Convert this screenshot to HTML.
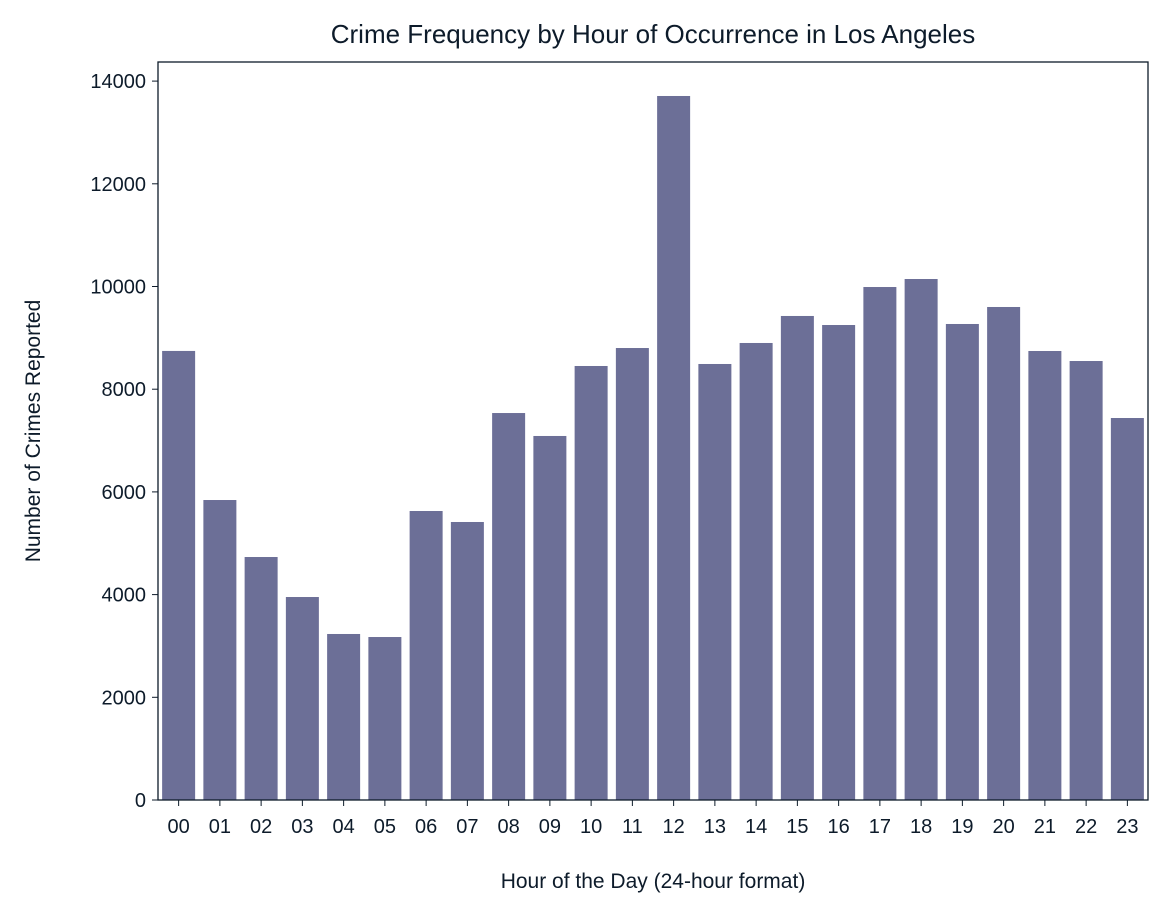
<!DOCTYPE html>
<html><head><meta charset="utf-8">
<style>
body{margin:0;background:#fff;}
svg text{font-family:"Liberation Sans",sans-serif;fill:#0d1b2a;}
</style></head><body>
<svg id="chart" width="1170" height="913" viewBox="0 0 1170 913" xmlns="http://www.w3.org/2000/svg">
<rect width="1170" height="913" fill="#fff"/>
<text x="653" y="43" font-size="26" text-anchor="middle">Crime Frequency by Hour of Occurrence in Los Angeles</text>
<text x="653" y="888" font-size="21" text-anchor="middle">Hour of the Day (24-hour format)</text>
<text transform="translate(40,431) rotate(-90)" font-size="21" text-anchor="middle">Number of Crimes Reported</text>
<g id="bars"></g>
<g id="ticks"></g>
<rect x="158" y="62" width="990" height="738" fill="none" stroke="#0d1b2a" stroke-width="1.3"/>
</svg>
<script>
const categories=["00","01","02","03","04","05","06","07","08","09","10","11","12","13","14","15","16","17","18","19","20","21","22","23"];
const crimeCounts=[8745,5842,4732,3953,3233,3174,5628,5414,7536,7089,8452,8802,13710,8491,8900,9426,9250,9990,10146,9270,9601,8744,8549,7439];
const yTicks=[0,2000,4000,6000,8000,10000,12000,14000];
const ns="http://www.w3.org/2000/svg";
const L=158,R=1148,B=800,pxPer2000=102.7;
const band=(R-L)/categories.length;
function xScale(i){return L+band*i;}
function yScale(v){return B-v/2000*pxPer2000;}
const bars=document.getElementById('bars'),ticks=document.getElementById('ticks');
categories.forEach((c,i)=>{
  const r=document.createElementNS(ns,'rect');
  
  
  const x=xScale(i)+band*0.1,y=yScale(crimeCounts[i]);
  r.setAttribute('x',x);r.setAttribute('y',y);
  r.setAttribute('width',band*0.8);r.setAttribute('height',B-y);
  r.setAttribute('fill','#6c6f97');
  bars.appendChild(r);
  const cx=xScale(i)+band/2;
  const tl=document.createElementNS(ns,'line');
  
  
  tl.setAttribute('x1',cx);tl.setAttribute('x2',cx);tl.setAttribute('y1',B);tl.setAttribute('y2',B+6);
  tl.setAttribute('stroke','#0d1b2a');ticks.appendChild(tl);
  const t=document.createElementNS(ns,'text');
  
  
  t.setAttribute('x',cx);t.setAttribute('y',B+33);t.setAttribute('font-size','20');t.setAttribute('text-anchor','middle');
  t.textContent=c;ticks.appendChild(t);
});
yTicks.forEach(v=>{
  const y=yScale(v);
  const tl=document.createElementNS(ns,'line');
  
  
  tl.setAttribute('x1',L-6);tl.setAttribute('x2',L);tl.setAttribute('y1',y);tl.setAttribute('y2',y);
  tl.setAttribute('stroke','#0d1b2a');ticks.appendChild(tl);
  const t=document.createElementNS(ns,'text');
  
  
  t.setAttribute('x',L-12);t.setAttribute('y',y+7);t.setAttribute('font-size','20');t.setAttribute('text-anchor','end');
  t.textContent=v;ticks.appendChild(t);
});
</script>
</body></html>
